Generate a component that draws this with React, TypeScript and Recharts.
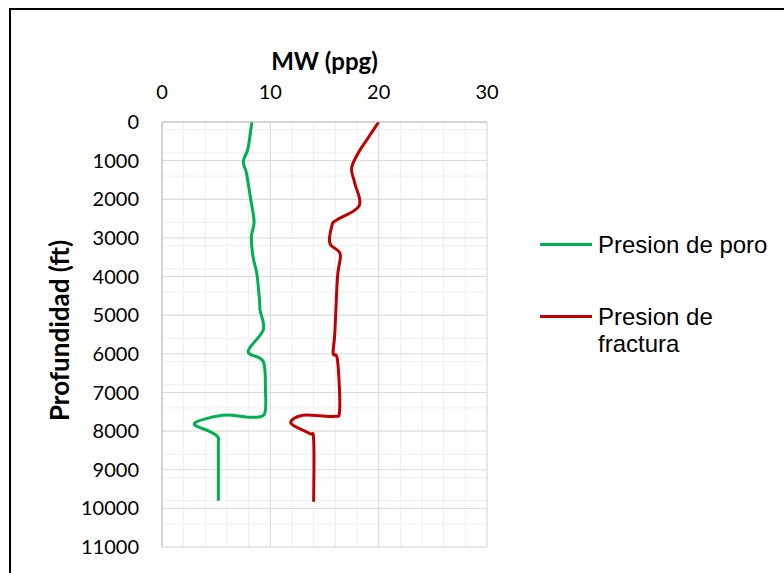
import React from "react";
import { CartesianGrid, Label, Legend, Line, LineChart, XAxis, YAxis } from "recharts";

// MW (ppg) vs depth (ft)
const poreDepth = [0, 400, 725, 1030, 1330, 2020, 2580, 2970, 3480, 3920, 4600, 4870, 5380, 5940, 6200, 6940, 7450, 7620, 7640, 7590, 7800, 8010, 8150, 8400, 9800];
const poreMw = [8.3, 8.1, 7.9, 7.5, 7.8, 8.2, 8.5, 8.25, 8.4, 8.75, 9.0, 9.05, 9.35, 7.95, 9.35, 9.55, 9.55, 9.2, 8.0, 5.6, 3.0, 4.4, 5.15, 5.2, 5.2];

const fracDepth = [0, 420, 810, 1200, 1590, 2170, 2540, 2670, 3140, 3420, 4000, 5470, 5990, 6160, 7450, 7620, 7590, 7800, 8060, 8230, 9830];
const fracMw = [20, 19.0, 18.1, 17.5, 17.8, 18.2, 16.1, 15.7, 15.5, 16.45, 16.2, 15.95, 15.8, 16.2, 16.4, 15.8, 13.0, 11.9, 13.6, 14.0, 14.0];

const mwTicks = [0, 10, 20, 30];
const mwMinor = [0, 2, 4, 6, 8, 10, 12, 14, 16, 18, 20, 22, 24, 26, 28, 30];
const depthTicks = [0, 1000, 2000, 3000, 4000, 5000, 6000, 7000, 8000, 9000, 10000, 11000];
const depthMinor = Array.from({ length: 56 }, (_, i) => i * 200);

const legendOrder = ["Presion de poro", "Presion de fractura"];

const poreData = poreDepth.map((depth, i) => ({ depth, mw: poreMw[i] }));
const fracData = fracDepth.map((depth, i) => ({ depth, mw: fracMw[i] }));

// Excel-style smoothed line (Catmull-Rom through the points)
function smooth(context: any) {
  let pts: number[][] = [];
  return {
    areaStart() {},
    areaEnd() {},
    lineStart() {
      pts = [];
    },
    point(x: number, y: number) {
      pts.push([+x, +y]);
    },
    lineEnd() {
      if (!pts.length) return;
      context.moveTo(pts[0][0], pts[0][1]);
      const t = 1 / 6;
      for (let i = 0; i < pts.length - 1; i++) {
        const p0 = pts[i - 1] ?? pts[i];
        const p1 = pts[i];
        const p2 = pts[i + 1];
        const p3 = pts[i + 2] ?? p2;
        context.bezierCurveTo(
          p1[0] + (p2[0] - p0[0]) * t,
          p1[1] + (p2[1] - p0[1]) * t,
          p2[0] - (p3[0] - p1[0]) * t,
          p2[1] - (p3[1] - p1[1]) * t,
          p2[0],
          p2[1]
        );
      }
    },
  };
}

const tickFont = { fontFamily: "Lato", fontSize: 20, fill: "#000" };

function LegendBox({ payload }: any) {
  const items = [...(payload || [])].sort(
    (a: any, b: any) => legendOrder.indexOf(a.value) - legendOrder.indexOf(b.value)
  );
  return (
    <div style={{ fontFamily: "'Liberation Sans', Arial", fontSize: 24, color: "#000" }}>
      {items.map((p: any, i: number) => (
        <div key={p.value} style={{ display: "flex", alignItems: "flex-start", marginBottom: i === 0 ? 45 : 0 }}>
          <div style={{ width: 52, height: 3, background: p.color, marginTop: 12, marginRight: 6, flex: "none" }} />
          <div style={{ width: 180, lineHeight: "27px" }}>{p.value}</div>
        </div>
      ))}
    </div>
  );
}

export default function App() {
  return (
    <div style={{ position: "absolute", left: 0, top: 0, width: 784, height: 573, background: "#fff", overflow: "hidden" }}>
      <div
        style={{
          position: "absolute",
          left: 9,
          top: 8,
          right: 0,
          bottom: 0,
          borderTop: "2px solid #000",
          borderLeft: "2px solid #000",
        }}
      />
      <LineChart
        width={784}
        height={573}
        layout="vertical"
        margin={{ top: 62, right: 297, bottom: 26, left: 12 }}
        style={{ position: "absolute", left: 0, top: 0 }}
      >
        <CartesianGrid stroke="#efefef" verticalValues={mwMinor} horizontalValues={depthMinor} />
        <CartesianGrid stroke="#d9d9d9" verticalValues={mwTicks} horizontalValues={depthTicks} />
        <XAxis
          type="number"
          dataKey="mw"
          orientation="top"
          domain={[0, 30]}
          ticks={mwTicks}
          height={60}
          tickLine={false}
          axisLine={{ stroke: "#bfbfbf" }}
          tick={tickFont}
          tickMargin={17}
        >
          <Label
            content={({ viewBox }: any) => (
              <text
                x={viewBox.x + viewBox.width / 2}
                y={viewBox.y - 2}
                textAnchor="middle"
                dominantBaseline="central"
                fontFamily="Lato"
                fontWeight="bold"
                fontSize={24}
              >
                MW (ppg)
              </text>
            )}
          />
        </XAxis>
        <YAxis
          type="number"
          dataKey="depth"
          domain={[0, 11000]}
          ticks={depthTicks}
          width={150}
          tickLine={false}
          axisLine={{ stroke: "#bfbfbf" }}
          tick={tickFont}
          tickMargin={17}
        >
          <Label
            content={({ viewBox }: any) => {
              const cx = viewBox.x + 47;
              const cy = viewBox.y + viewBox.height / 2 - 4;
              return (
                <text
                  x={cx}
                  y={cy}
                  transform={`rotate(-90 ${cx} ${cy})`}
                  textAnchor="middle"
                  dominantBaseline="central"
                  fontFamily="Lato"
                  fontWeight="bold"
                  fontSize={26}
                >
                  Profundidad (ft)
                </text>
              );
            }}
          />
        </YAxis>
        <Legend
          layout="vertical"
          align="center"
          verticalAlign="middle"
          content={<LegendBox />}
          wrapperStyle={{ position: "absolute", left: 540, top: 231, width: 240 }}
        />
        <Line
          data={poreData}
          dataKey="mw"
          name="Presion de poro"
          stroke="#00b050"
          strokeWidth={3}
          type={smooth as any}
          dot={false}
          isAnimationActive={false}
        />
        <Line
          data={fracData}
          dataKey="mw"
          name="Presion de fractura"
          stroke="#c00000"
          strokeWidth={3}
          type={smooth as any}
          dot={false}
          isAnimationActive={false}
        />
      </LineChart>
    </div>
  );
}
